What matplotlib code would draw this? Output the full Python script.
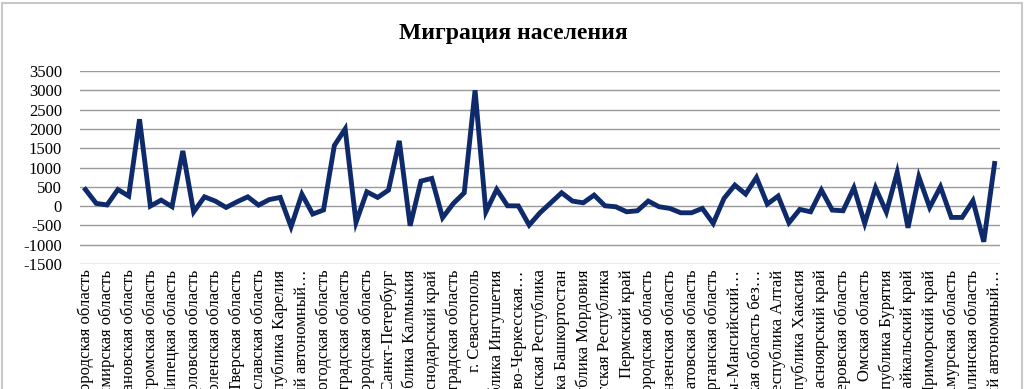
import matplotlib
matplotlib.use("Agg")
import matplotlib.pyplot as plt
from matplotlib.patches import Rectangle
import numpy as np

regions = [
    "Белгородская область", "Брянская область", "Владимирская область", "Воронежская область",
    "Ивановская область", "Калужская область", "Костромская область", "Курская область",
    "Липецкая область", "Московская область", "Орловская область", "Рязанская область",
    "Смоленская область", "Тамбовская область", "Тверская область", "Тульская область",
    "Ярославская область", "г. Москва", "Республика Карелия", "Республика Коми",
    "Ненецкий автономный…", "Архангельская область", "Вологодская область", "Калининградская область",
    "Ленинградская область", "Мурманская область", "Новгородская область", "Псковская область",
    "г. Санкт-Петербург", "Республика Адыгея", "Республика Калмыкия", "Республика Крым",
    "Краснодарский край", "Астраханская область", "Волгоградская область", "Ростовская область",
    "г. Севастополь", "Республика Дагестан", "Республика Ингушетия", "Кабардино-Балкарская…",
    "Карачаево-Черкесская…", "Республика Северная…", "Чеченская Республика", "Ставропольский край",
    "Республика Башкортостан", "Республика Марий Эл", "Республика Мордовия", "Республика Татарстан",
    "Удмуртская Республика", "Чувашская Республика", "Пермский край", "Кировская область",
    "Нижегородская область", "Оренбургская область", "Пензенская область", "Самарская область",
    "Саратовская область", "Ульяновская область", "Курганская область", "Свердловская область",
    "Ханты-Мансийский…", "Ямало-Ненецкий…", "Тюменская область без…", "Челябинская область",
    "Республика Алтай", "Республика Тыва", "Республика Хакасия", "Алтайский край",
    "Красноярский край", "Иркутская область", "Кемеровская область", "Новосибирская область",
    "Омская область", "Томская область", "Республика Бурятия", "Республика Саха (Якутия)",
    "Забайкальский край", "Камчатский край", "Приморский край", "Хабаровский край",
    "Амурская область", "Магаданская область", "Сахалинская область", "Еврейская автономная…",
    "Чукотский автономный…",
]

migration = [
    430, 70, 30, 430, 260, 2250, 0, 155, -15, 1430,
    -150, 240, 130, -35, 110, 240, 25, 170, 225, -535,
    310, -207, -100, 1570, 2000, -423, 370, 225, 414, 1690,
    -510, 648, 717, -300, 70, 345, 3000, -147, 432, 8,
    5, -492, -173, 86, 345, 130, 86, 285, 8, -17,
    -147, -121, 130, -17, -60, -173, -173, -60, -449, 199,
    544, 311, 743, 52, 259, -432, -86, -147, 414, -104,
    -121, 475, -449, 475, -155, 872, -561, 760, -35, 500,
    -293, -293, 138, -924, 1105,
]

yticks = [-1500, -1000, -500, 0, 500, 1000, 1500, 2000, 2500, 3000, 3500]
title = "Миграция населения"

W, H = 1027, 389
fig = plt.figure(figsize=(W / 100, H / 100), dpi=100)
plt.rcParams['font.family'] = ['Liberation Serif', 'DejaVu Serif']

ax = fig.add_axes([80 / W, 1 - 264 / H, 920 / W, 193 / H])
x = np.arange(len(migration))
ax.plot(x, migration, color='#0E2A6B', lw=3.5, solid_joinstyle='miter', zorder=3)

ax.set_xlim(-0.5, len(migration) - 0.5)
ax.set_ylim(yticks[0], yticks[-1])
ax.set_yticks(yticks)
ax.set_yticklabels([str(v) for v in yticks], fontsize=12)
ax.yaxis.grid(True, color='#9a9a9a', lw=1)
ax.set_axisbelow(True)

tick_idx = x[::2]
ax.set_xticks(tick_idx)
ax.set_xticklabels([regions[i] for i in tick_idx], rotation=90, fontsize=12,
                   ha='center', va='top')
ax.tick_params(axis='x', length=0, pad=4)
ax.tick_params(axis='y', length=0, pad=13)
for s in ax.spines.values():
    s.set_visible(False)

fig.text(513 / W, 1 - 33 / H, title, ha='center', va='center', fontsize=17,
         fontweight='bold')

fig.patches.append(Rectangle((2 / W, -0.1), 1020 / W, 1.1 - 3 / H, transform=fig.transFigure,
                             fill=False, edgecolor='#c8c8c8', lw=1.5))

fig.savefig('out.png', dpi=100)
